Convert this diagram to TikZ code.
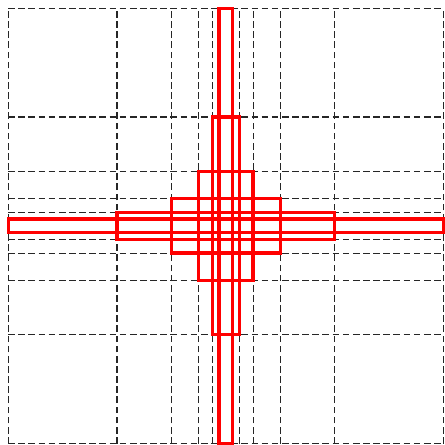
\documentclass[tikz,border=0pt]{standalone}
\usepackage{tikz}

\begin{document}
\begin{tikzpicture}[scale=0.25]
    \tikzset{gridline/.style={dash pattern=on 3.5pt off 1.8pt,line width=0.6pt,black!85},
             cell/.style={draw=red,line width=1.7pt}}
    \useasboundingbox (-16.6,-16.1) rectangle (16.1,16.6);
    % dashed grid, halving towards the middle
    \draw[gridline](-16,-16)--(-16,16);
    \draw[gridline](-8,-16)--(-8,16);
    \draw[gridline](-4,-16)--(-4,16);
    \draw[gridline](-2,-16)--(-2,16);
    \draw[gridline](-1,-16)--(-1,16);
    \draw[gridline](1,-16)--(1,16);
    \draw[gridline](2,-16)--(2,16);
    \draw[gridline](4,-16)--(4,16);
    \draw[gridline](8,-16)--(8,16);
    \draw[gridline](16,-16)--(16,16);
    \draw[gridline](-16,-16)--(16,-16);
    \draw[gridline](-16,-8)--(16,-8);
    \draw[gridline](-16,-4)--(16,-4);
    \draw[gridline](-16,-2)--(16,-2);
    \draw[gridline](-16,-1)--(16,-1);
    \draw[gridline](-16,1)--(16,1);
    \draw[gridline](-16,2)--(16,2);
    \draw[gridline](-16,4)--(16,4);
    \draw[gridline](-16,8)--(16,8);
    \draw[gridline](-16,16)--(16,16);
    % red rectangles
    \draw[cell](-16,-0.5) rectangle (16,0.5);
    \draw[cell](-8,-1) rectangle (8,1);
    \draw[cell](-4,-2) rectangle (4,2);
    \draw[cell](-2,-4) rectangle (2,4);
    \draw[cell](-1,-8) rectangle (1,8);
    \draw[cell](-0.5,-16) rectangle (0.5,16);
\end{tikzpicture}
\end{document}
